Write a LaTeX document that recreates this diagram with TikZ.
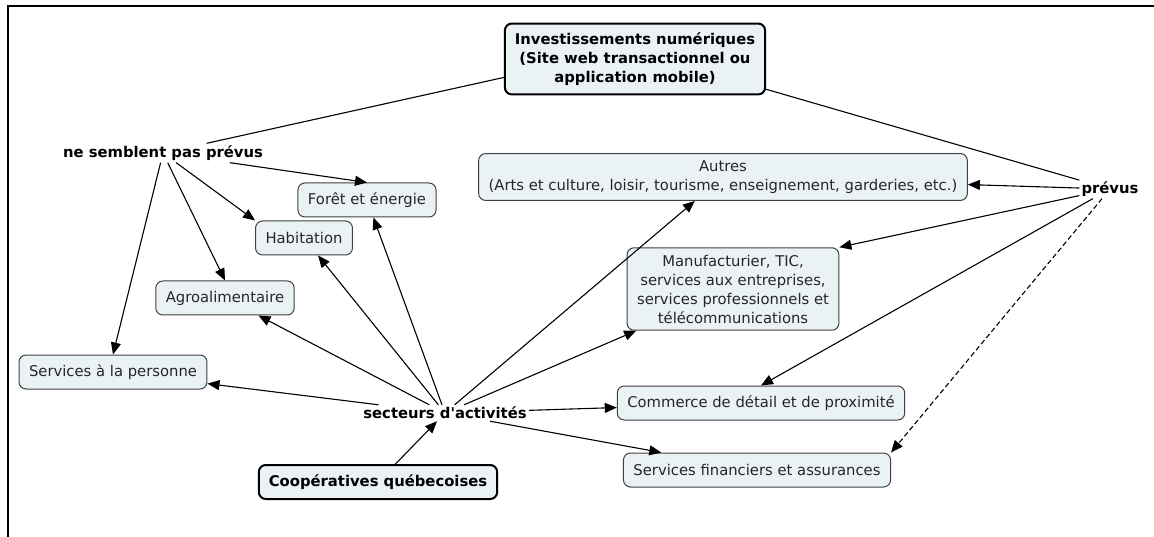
\documentclass[tikz,border=0pt]{standalone}
\usepackage{fontspec}
\newfontfamily\cmapfont{DejaVu Sans}
\usetikzlibrary{arrows.meta}
\definecolor{cmapfill}{RGB}{234,242,246}
\begin{document}
\begin{tikzpicture}[x=1pt,y=-1pt,
	every node/.style={font=\cmapfont\fontsize{14.8}{19}\selectfont},
	concept/.style={draw=black!75,fill=cmapfill,rounded corners=7pt,line width=1pt,inner xsep=10pt,inner ysep=7pt,minimum height=34pt,align=center,text=black!85},
	mainconcept/.style={concept,draw=black,line width=2pt,font=\cmapfont\fontsize{14.8}{19}\selectfont\bfseries,text=black},
	linklabel/.style={font=\cmapfont\fontsize{14.8}{19}\selectfont\bfseries,inner sep=2pt},
	link/.style={line width=1.1pt,-{Triangle[length=12pt,width=10pt]}},
	joinline/.style={line width=1.1pt}]
	\useasboundingbox (0,0) rectangle (1154,537);
	\draw[line width=2.2pt] (8,537) -- (8,6) -- (1154,6);
	\node[mainconcept,inner ysep=9pt] (invest) at (635,59) {Investissements numériques\\(Site web transactionnel ou\\application mobile)};
	\node[linklabel] (nonprevus) at (163,153) {ne semblent pas prévus};
	\node[linklabel] (prevus) at (1110,189) {prévus};
	\node[concept] (autres) at (723,177) {Autres\\(Arts et culture, loisir, tourisme, enseignement, garderies, etc.)};
	\node[concept] (foret) at (367,200) {Forêt et énergie};
	\node[concept] (habitation) at (304,238) {Habitation};
	\node[concept] (agro) at (225,298) {Agroalimentaire};
	\node[concept] (personne) at (113,372) {Services à la personne};
	\node[concept] (manuf) at (733,289) {Manufacturier, TIC,\\services aux entreprises,\\services professionnels et\\télécommunications};
	\node[linklabel] (secteurs) at (445,413) {secteurs d'activités};
	\node[mainconcept] (coop) at (378,482) {Coopératives québecoises};
	\node[concept] (commerce) at (761,403) {Commerce de détail et de proximité};
	\node[concept] (finance) at (757,470) {Services financiers et assurances};
	\draw[joinline] (invest.188) -- (nonprevus);
	\draw[joinline] (invest.347) -- (prevus);
	\draw[link] (nonprevus) -- (foret.north);
	\draw[link] (nonprevus) -- (habitation.north west);
	\draw[link] (nonprevus) -- (agro.north);
	\draw[link] (nonprevus) -- (personne.north);
	\draw[link] (coop) -- (secteurs);
	\draw[link] (secteurs) -- (personne);
	\draw[link] (secteurs) -- (agro);
	\draw[link] (secteurs) -- (habitation);
	\draw[link] (secteurs) -- (foret);
	\draw[link] (secteurs) -- (autres);
	\draw[link] (secteurs) -- (manuf);
	\draw[link] (secteurs) -- (commerce);
	\draw[link] (secteurs) -- (finance);
	\draw[link] (prevus) -- (autres);
	\draw[link] (prevus) -- (manuf.north east);
	\draw[link] (prevus) -- (commerce.north);
	\draw[link,dash pattern=on 5pt off 3pt] (prevus) -- (finance.north east);
\end{tikzpicture}
\end{document}
